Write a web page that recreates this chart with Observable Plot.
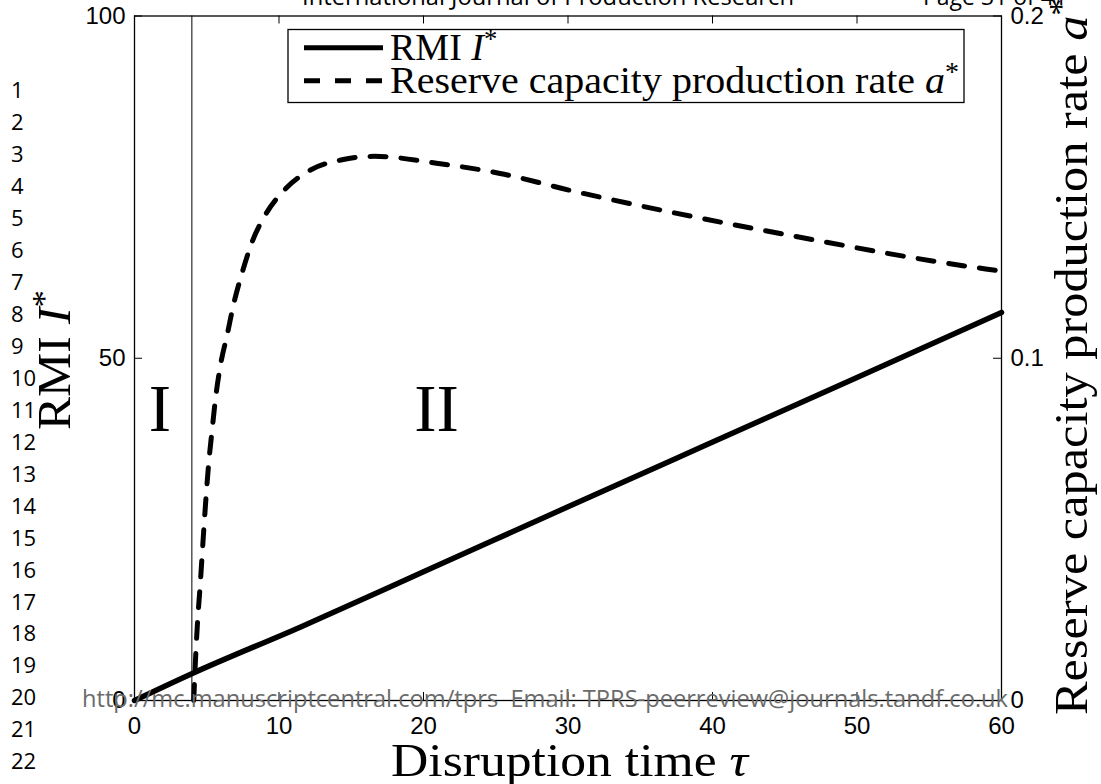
<!DOCTYPE html>
<html><head><meta charset="utf-8">
<script src="https://cdn.jsdelivr.net/npm/d3@7"></script>
<script src="https://cdn.jsdelivr.net/npm/@observablehq/plot@0.6"></script>
<style>html,body{margin:0;padding:0;background:#fff;overflow:hidden}</style>
</head><body><div id="chart"></div>
<script>
// ---- data ----
const tauRmi = [0, 4, 11.5, 20, 30, 39.2, 50, 60];
const rmiValues = [0, 3.95, 10.75, 18.8, 28.3, 37.0, 47.2, 56.7];

const tauA = [4.1, 4.2, 4.35, 4.55, 4.75, 4.96, 5.15, 5.37, 5.6, 5.95, 6.42, 6.87, 7.45, 8.14, 9.07, 10.45, 12.18, 14.37, 16.6, 20.9, 25.3, 30.2, 37.1, 43.6, 47.9, 52.3, 58.9, 60];
const aValues = [0, 0.010, 0.022, 0.034, 0.047, 0.060, 0.070, 0.079, 0.088, 0.098, 0.107, 0.116, 0.125, 0.134, 0.142, 0.1495, 0.155, 0.158, 0.159, 0.157, 0.154, 0.149, 0.1427, 0.1373, 0.1339, 0.1305, 0.1261, 0.1255];

const regionBoundary = 3.97;
const regionLabels = ["I", "II"];
const regionTau = [1.75, 20.9];
const regionLevel = 39.3;

const xTicks = [0, 10, 20, 30, 40, 50, 60];
const leftTicks = [0, 50, 100];
const rightTicks = [0, 0.1, 0.2];

const headerText = "International Journal of Production Research";
const pageText = "Page 31 of 41";
const footerText = "http://mc.manuscriptcentral.com/tprs  Email: TPRS-peerreview@journals.tandf.co.uk";
const lineNumbers = d3.range(1, 23);

// ---- chart ----
const A_TO_Y = 500; // right axis 0..0.2 shares the left 0..100 scale
const serif = "'Liberation Serif', 'DejaVu Serif', serif";
const sans = "'Open Sans', 'Noto Sans', sans-serif";
const rmiData = tauRmi.map((t, i) => ({tau: t, value: rmiValues[i]}));
const aData = tauA.map((t, i) => ({tau: t, value: aValues[i] * A_TO_Y}));
const rightTickPos = rightTicks.map(v => v * A_TO_Y);

const W = 1101, H = 784, mL = 134, mR = 100, mT = 15.5, mB = 84;
const tickPx = 8;
const tickY = tickPx * 100 / (H - mT - mB);   // tick length in y units
const tickX = tickPx * 60 / (W - mL - mR);    // tick length in x units

const svg = Plot.plot({
  width: W, height: H,
  marginLeft: mL, marginRight: mR, marginTop: mT, marginBottom: mB,
  x: {domain: [0, 60]},
  y: {domain: [0, 100]},
  style: {fontFamily: "'Liberation Sans', Arial, sans-serif", fontSize: "24px", background: "#fff", color: "#000", overflow: "visible"},
  marks: [
    Plot.ruleX([regionBoundary], {stroke: "#000", strokeWidth: 1}),
    Plot.line(aData, {x: "tau", y: "value", stroke: "#000", strokeWidth: 5, strokeDasharray: "16,15", curve: "monotone-x"}),
    Plot.line(rmiData, {x: "tau", y: "value", stroke: "#000", strokeWidth: 5.5, curve: "monotone-x"}),
    Plot.text(regionLabels, {x: (d, i) => regionTau[i], y: regionLevel, text: d => d, fontFamily: serif, fontSize: 67, lineAnchor: "bottom", fill: "#000"}),
    // inward ticks
    Plot.ruleX(xTicks, {y1: 0, y2: tickY, stroke: "#000", strokeWidth: 1}),
    Plot.ruleX(xTicks, {y1: 100 - tickY, y2: 100, stroke: "#000", strokeWidth: 1}),
    Plot.ruleY(leftTicks, {x1: 0, x2: tickX, stroke: "#000", strokeWidth: 1}),
    Plot.ruleY(rightTickPos, {x1: 60 - tickX, x2: 60, stroke: "#000", strokeWidth: 1}),
    Plot.frame({stroke: "#000", strokeWidth: 1.3}),
    Plot.axisX(xTicks, {anchor: "bottom", tickSize: 0, tickPadding: 16, label: null}),
    Plot.axisY(leftTicks, {anchor: "left", tickSize: 0, tickPadding: 9, label: null}),
    Plot.axisY(rightTickPos, {anchor: "right", tickSize: 0, tickPadding: 9, tickFormat: d => String(+(d / A_TO_Y).toFixed(1)), label: null})
  ]
});
document.getElementById("chart").append(svg);

const s = d3.select(svg);

// legend
const lg = s.append("g");
lg.append("rect").attr("x", 288).attr("y", 29.5).attr("width", 676).attr("height", 73)
  .attr("fill", "#fff").attr("stroke", "#000").attr("stroke-width", 1.3);
lg.append("line").attr("x1", 304).attr("x2", 383).attr("y1", 47.7).attr("y2", 47.7)
  .attr("stroke", "#000").attr("stroke-width", 5);
lg.append("line").attr("x1", 304).attr("x2", 383).attr("y1", 80.7).attr("y2", 80.7)
  .attr("stroke", "#000").attr("stroke-width", 5).attr("stroke-dasharray", "16,15");

function mathText(g, parts, attrs) {
  const t = g.append("text").attr("font-family", serif).attr("fill", "#000").attr("text-anchor", "start");
  for (const [k, v] of Object.entries(attrs)) t.attr(k, v);
  for (const p of parts) {
    const ts = t.append("tspan").text(p.t);
    if (p.it) ts.attr("font-style", "italic");
    if (p.sup) ts.attr("font-size", "0.7em").attr("dy", "-0.45em");
  }
  return t;
}

mathText(lg, [{t: "RMI "}, {t: "I", it: 1}, {t: "*", sup: 1}], {x: 390, y: 59.5, "font-size": 38});
mathText(lg, [{t: "Reserve capacity production rate "}, {t: "a", it: 1}, {t: "*", sup: 1}],
  {x: 390, y: 92.5, "font-size": 38, textLength: 569, lengthAdjust: "spacingAndGlyphs"});

// axis titles
mathText(s, [{t: "Disruption time "}, {t: "τ", it: 1}],
  {x: 391, y: 776, "font-size": 47, textLength: 357, lengthAdjust: "spacingAndGlyphs"});
mathText(s, [{t: "RMI "}, {t: "I", it: 1}, {t: "*", sup: 1}],
  {transform: "translate(70,430) rotate(-90)", "font-size": 47, textLength: 140, lengthAdjust: "spacingAndGlyphs"});
mathText(s, [{t: "Reserve capacity production rate "}, {t: "a", it: 1}, {t: "*", sup: 1}],
  {transform: "translate(1087,715) rotate(-90)", "font-size": 47, textLength: 717, lengthAdjust: "spacingAndGlyphs"});

// page decorations
s.append("text").text(headerText).attr("x", 302).attr("y", 4.5).attr("text-anchor", "start")
  .attr("font-family", sans).attr("font-size", 23).attr("fill", "#000")
  .attr("textLength", 492).attr("lengthAdjust", "spacingAndGlyphs");
s.append("text").text(pageText).attr("x", 923).attr("y", 4.5).attr("text-anchor", "start")
  .attr("font-family", sans).attr("font-size", 23).attr("fill", "#000");
s.append("g").selectAll("text").data(lineNumbers).join("text")
  .text(d => d).attr("x", 11).attr("y", d => 98.3 + (d - 1) * 31.95).attr("text-anchor", "start")
  .attr("font-family", sans).attr("font-size", 22).attr("fill", "#000");
s.append("text").text(footerText).attr("x", 82).attr("y", 707).attr("text-anchor", "start")
  .attr("font-family", sans).attr("font-size", 23).attr("fill", "#6b6b6b")
  .attr("textLength", 926).attr("lengthAdjust", "spacingAndGlyphs");
</script>
</body></html>
